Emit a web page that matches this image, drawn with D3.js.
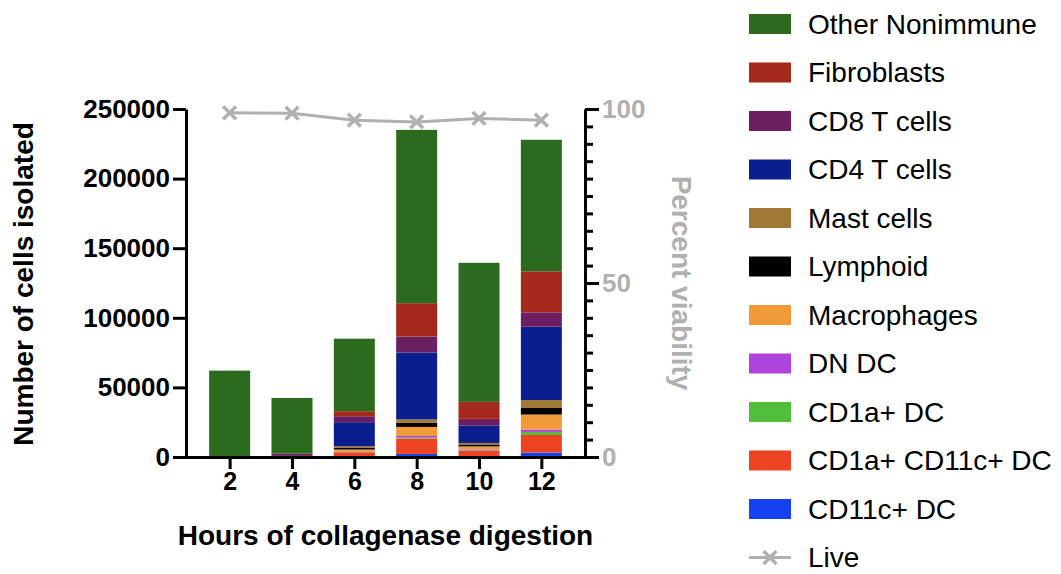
<!DOCTYPE html>
<html><head><meta charset="utf-8">
<script src="https://cdn.jsdelivr.net/npm/d3@7/dist/d3.min.js"></script>
<style>
body{margin:0;background:#fff;}
text{font-family:"Liberation Sans",Arial,Helvetica,sans-serif;}
</style></head>
<body><svg id="c" width="1061" height="574"></svg>
<script>
const categories = ["2","4","6","8","10","12"];
const seriesNames = ["CD11c+ DC","CD1a+ CD11c+ DC","CD1a+ DC","DN DC","Macrophages","Lymphoid","Mast cells","CD4 T cells","CD8 T cells","Fibroblasts","Other Nonimmune"];
const cd11c      = [20, 30, 400, 2200, 700, 3200];
const cd1aCd11c  = [50, 100, 3000, 11100, 3600, 12600];
const cd1a       = [20, 30, 200, 700, 400, 2200];
const dnDC       = [20, 50, 300, 1100, 700, 1700];
const macrophages= [50, 100, 1500, 6500, 2200, 10800];
const lymphoid   = [50, 50, 1400, 2900, 1400, 4700];
const mast       = [50, 50, 1000, 2500, 1100, 5700];
const cd4        = [100, 400, 17200, 48100, 12600, 52700];
const cd8        = [100, 1500, 4300, 11500, 4700, 10300];
const fibroblasts= [100, 100, 3600, 23900, 12200, 29500];
const otherNon   = [61500, 40000, 52100, 124500, 99900, 94500];
const live       = [98.9, 98.8, 96.8, 96.3, 97.3, 96.8];
const leftTicks  = [0, 50000, 100000, 150000, 200000, 250000];
const rightTicks = [0, 50, 100];

const seriesValues = [cd11c, cd1aCd11c, cd1a, dnDC, macrophages, lymphoid, mast, cd4, cd8, fibroblasts, otherNon];
const colors = ["#1541f0","#ee4323","#52be3e","#ad45dc","#f09a3a","#000000","#a27836","#0b1e8e","#6b1f60","#a4291a","#2c6b1e"];
const liveColor = "#b0b0b0";

const svg = d3.select("#c");
const L = 186, R = 585, B = 457, T = 109;
const x = d3.scalePoint().domain(categories).range([L, R]).padding(0.7);
const y = d3.scaleLinear().domain([0, 250000]).range([B, T]);
const y2 = d3.scaleLinear().domain([0, 100]).range([B, T]);
const barW = 41;

// stacked data
const table = categories.map((c, i) => {
  const o = {cat: c};
  seriesNames.forEach((n, k) => o[n] = seriesValues[k][i]);
  return o;
});
const stack = d3.stack().keys(seriesNames)(table);

svg.append("g").selectAll("g").data(stack).join("g")
  .attr("fill", (d, k) => colors[k])
  .selectAll("rect").data(d => d).join("rect")
  .attr("x", d => x(d.data.cat) - barW / 2)
  .attr("width", barW)
  .attr("y", d => y(d[1]))
  .attr("height", d => y(d[0]) - y(d[1]));

// left axis
const ga = svg.append("g").attr("transform", `translate(${L},0)`)
  .call(d3.axisLeft(y).tickValues(leftTicks).tickFormat(d3.format("d")).tickSize(13).tickSizeOuter(0).tickPadding(3));
ga.select(".domain").attr("stroke", "#000").attr("stroke-width", 3);
ga.selectAll(".tick line").attr("stroke", "#000").attr("stroke-width", 3);
ga.selectAll(".tick text").attr("font-size", 26).attr("font-weight", "bold").attr("fill", "#000");

// right axis
const rTicks = d3.range(0, 101, 5);
const gr = svg.append("g").attr("transform", `translate(${R},0)`)
  .call(d3.axisRight(y2).tickValues(rTicks).tickFormat(d => rightTicks.includes(d) ? d : "").tickSize(14).tickSizeOuter(0).tickPadding(3));
gr.select(".domain").attr("stroke", "#000").attr("stroke-width", 3);
gr.selectAll(".tick line").attr("stroke", "#000").attr("stroke-width", 3)
  .attr("x2", d => rightTicks.includes(d) ? 14 : 8);
gr.selectAll(".tick text").attr("font-size", 26).attr("font-weight", "bold").attr("fill", liveColor);

// bottom axis
const gb = svg.append("g").attr("transform", `translate(0,${B})`)
  .call(d3.axisBottom(x).tickSize(12).tickSizeOuter(0).tickPadding(3));
gb.select(".domain").attr("stroke", "#000").attr("stroke-width", 3).attr("d", `M${L - 13},0.5H${R + 1.5}`);
gb.selectAll(".tick line").attr("stroke", "#000").attr("stroke-width", 3);
gb.selectAll(".tick text").attr("font-size", 25).attr("font-weight", "bold").attr("fill", "#000");

// live line
const line = d3.line().x((d, i) => x(categories[i])).y(d => y2(d));
svg.append("path").datum(live).attr("d", line).attr("fill", "none").attr("stroke", liveColor).attr("stroke-width", 3);
const cross = d3.symbol().type(d3.symbolX).size(110);
svg.append("g").selectAll("path").data(live).join("path")
  .attr("transform", (d, i) => `translate(${x(categories[i])},${y2(d)})`)
  .attr("d", cross).attr("fill", "none").attr("stroke", liveColor).attr("stroke-width", 3.5);

// titles
svg.append("text").attr("transform", `translate(33,${(T + B) / 2 + 1}) rotate(-90)`)
  .attr("text-anchor", "middle").attr("font-size", 28).attr("font-weight", "bold").text("Number of cells isolated");
svg.append("text").attr("x", (L + R) / 2).attr("y", 545)
  .attr("text-anchor", "middle").attr("font-size", 28).attr("font-weight", "bold").text("Hours of collagenase digestion");
svg.append("text").attr("transform", `translate(672,283) rotate(90)`)
  .attr("text-anchor", "middle").attr("font-size", 28).attr("font-weight", "bold").attr("fill", liveColor).text("Percent viability");

// legend
const legendOrder = seriesNames.slice().reverse();
const lg = svg.append("g");
legendOrder.forEach((n, i) => {
  const cy = 24 + i * 48.5;
  lg.append("rect").attr("x", 749).attr("y", cy - 10).attr("width", 42).attr("height", 20)
    .attr("fill", colors[seriesNames.indexOf(n)]);
  lg.append("text").attr("x", 808).attr("y", cy).attr("dominant-baseline", "central")
    .attr("font-size", 28).attr("fill", "#000").text(n);
});
const ly = 24 + 11 * 48.5;
lg.append("line").attr("x1", 749).attr("x2", 791).attr("y1", ly).attr("y2", ly).attr("stroke", liveColor).attr("stroke-width", 3);
lg.append("path").attr("transform", `translate(770,${ly})`).attr("d", cross).attr("fill", "none").attr("stroke", liveColor).attr("stroke-width", 3.5);
lg.append("text").attr("x", 808).attr("y", ly).attr("dominant-baseline", "central").attr("font-size", 28).text("Live");
</script></body></html>
